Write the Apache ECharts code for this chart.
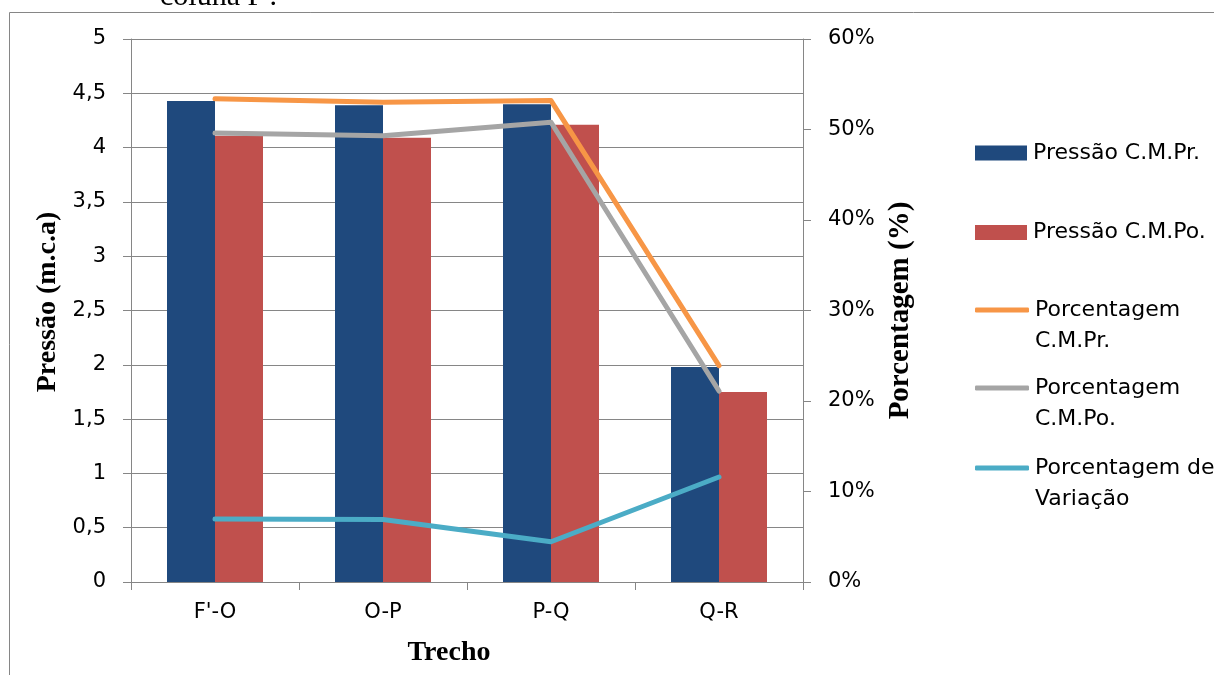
<!DOCTYPE html>
<html>
<head>
<meta charset="utf-8">
<script src="https://cdn.jsdelivr.net/npm/echarts@6/dist/echarts.min.js"></script>
<style>html,body{margin:0;padding:0;background:#fff;}#c{width:1214px;height:675px;}</style>
</head>
<body>
<div id="c"></div>
<script>
const categories = ["F'-O", "O-P", "P-Q", "Q-R"];
const pressaoPr = [4.43, 4.39, 4.40, 1.98];
const pressaoPo = [4.11, 4.09, 4.21, 1.75];
const porcPr = [53.4, 53.0, 53.2, 23.9];
const porcPo = [49.6, 49.3, 50.8, 21.1];
const porcVar = [6.95, 6.9, 4.45, 11.6];
const leftTicks = { min: 0, max: 5, interval: 0.5 };
const rightTicks = { min: 0, max: 60, interval: 10 };

const names = ['Pressão C.M.Pr.', 'Pressão C.M.Po.', 'Porcentagem C.M.Pr.', 'Porcentagem C.M.Po.', 'Porcentagem de Variação'];
const legendLabels = { 'Porcentagem C.M.Pr.': '\nPorcentagem\nC.M.Pr.', 'Porcentagem C.M.Po.': '\nPorcentagem\nC.M.Po.', 'Porcentagem de Variação': '\nPorcentagem de\nVariação' };

const sans = 'DejaVu Sans';
const serif = 'Liberation Serif';
const grey = '#868686';

const chart = echarts.init(document.getElementById('c'));

function legendFor(name, top, isLine) {
  return {
    data: [name], left: 975, top: top, orient: 'vertical', selectedMode: false, padding: 0,
    itemWidth: isLine ? 54 : 52, itemHeight: isLine ? 5 : 15,
    icon: isLine ? 'roundRect' : 'rect',
    formatter: n => legendLabels[n] || n,
    textStyle: { fontFamily: sans, fontSize: 22, color: '#000', lineHeight: 31, padding: [0, 0, 0, 1] }
  };
}

const option = {
  animation: false,
  backgroundColor: '#fff',
  graphic: [
    { type: 'rect', shape: { x: 9.5, y: 12.5, width: 1300, height: 800 }, style: { fill: 'none', stroke: grey, lineWidth: 1 }, silent: true },
    { type: 'text', left: 160, top: -18, style: { text: "coluna F'.", fontFamily: serif, fontSize: 30, fill: '#000' } }
  ],
  legend: [
    legendFor(names[0], 137.5, false),
    legendFor(names[1], 217, false),
    legendFor(names[2], 263.5, true),
    legendFor(names[3], 341.5, true),
    legendFor(names[4], 421.5, true)
  ],
  grid: { left: 131, right: 411, top: 39, bottom: 93 },
  xAxis: {
    type: 'category', data: categories,
    axisLine: { lineStyle: { color: grey, width: 1 } },
    axisTick: { show: true, length: 8, alignWithLabel: false, lineStyle: { color: grey } },
    axisLabel: { fontFamily: sans, fontSize: 21, color: '#000', margin: 20 },
    name: 'Trecho', nameLocation: 'middle', nameGap: 57,
    nameTextStyle: { fontFamily: serif, fontWeight: 'bold', fontSize: 28, color: '#000', padding: [0, 36, 0, 0] }
  },
  yAxis: [
    {
      type: 'value', min: leftTicks.min, max: leftTicks.max, interval: leftTicks.interval,
      axisLine: { show: true, lineStyle: { color: grey, width: 1 } },
      axisTick: { show: true, length: 8, lineStyle: { color: grey } },
      splitLine: { show: true, lineStyle: { color: grey, width: 1 } },
      axisLabel: { fontFamily: sans, fontSize: 21, color: '#000', margin: 25, formatter: v => String(v).replace('.', ',') },
      name: 'Pressão (m.c.a)', nameLocation: 'middle', nameGap: 69, nameRotate: 90,
      nameTextStyle: { fontFamily: serif, fontWeight: 'bold', fontSize: 28, color: '#000', padding: [0, 0, 0, 17] }
    },
    {
      type: 'value', min: rightTicks.min, max: rightTicks.max, interval: rightTicks.interval, position: 'right',
      axisLine: { show: true, lineStyle: { color: grey, width: 1 } },
      axisTick: { show: true, length: 8, lineStyle: { color: grey } },
      splitLine: { show: false },
      axisLabel: { fontFamily: sans, fontSize: 21, color: '#000', margin: 25, formatter: '{value}%' },
      name: 'Porcentagem (%)', nameLocation: 'middle', nameGap: 83, nameRotate: 90,
      nameTextStyle: { fontFamily: serif, fontWeight: 'bold', fontSize: 29, color: '#000' }
    }
  ],
  series: [
    { name: names[0], type: 'bar', data: pressaoPr, barWidth: 48, barGap: '0%', itemStyle: { color: '#1F497D' } },
    { name: names[1], type: 'bar', data: pressaoPo, barWidth: 48, barGap: '0%', itemStyle: { color: '#C0504D' } },
    { name: names[2], type: 'line', yAxisIndex: 1, data: porcPr, showSymbol: false, symbol: 'none', itemStyle: { color: '#F79646' }, lineStyle: { color: '#F79646', width: 5, cap: 'round', join: 'round' } },
    { name: names[3], type: 'line', yAxisIndex: 1, data: porcPo, showSymbol: false, symbol: 'none', itemStyle: { color: '#A5A5A5' }, lineStyle: { color: '#A5A5A5', width: 5, cap: 'round', join: 'round' } },
    { name: names[4], type: 'line', yAxisIndex: 1, data: porcVar, showSymbol: false, symbol: 'none', itemStyle: { color: '#4BACC6' }, lineStyle: { color: '#4BACC6', width: 5, cap: 'round', join: 'round' } }
  ]
};
chart.setOption(option);
</script>
</body>
</html>
